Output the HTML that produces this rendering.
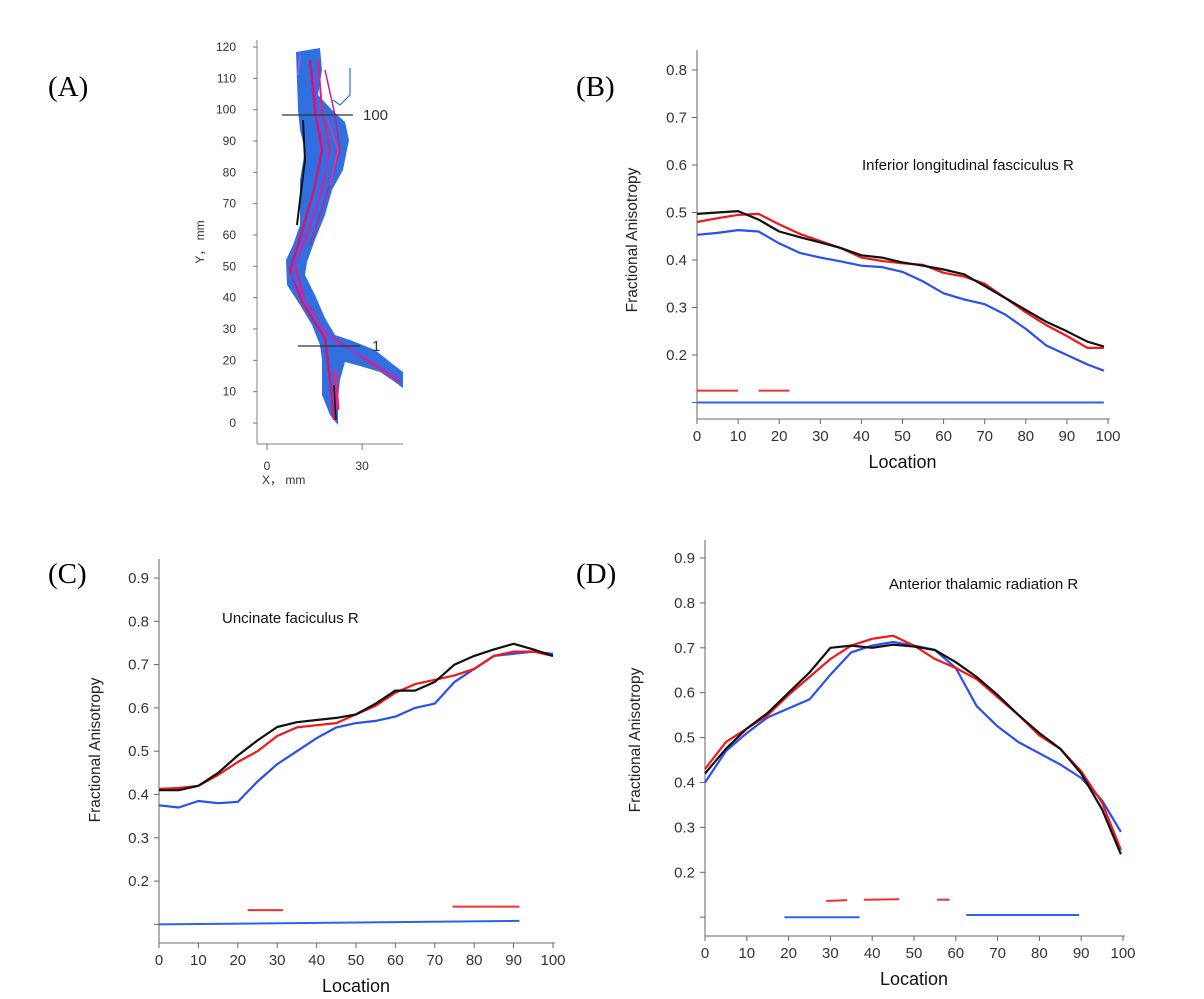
<!DOCTYPE html>
<html><head><meta charset="utf-8">
<style>
html,body{margin:0;padding:0;background:#fff;}
svg{display:block;}
text{font-family:"Liberation Sans",sans-serif;}
.pl{font-family:"Liberation Serif",serif;font-size:29px;fill:#000;}
.tk{font-size:15px;fill:#333;}
.ttl{font-size:15px;fill:#111;}
.axt{font-size:15.5px;fill:#222;}
.loc{font-size:18px;fill:#111;}
</style></head>
<body>
<svg id="fig" width="1204" height="999" viewBox="0 0 1204 999" xmlns="http://www.w3.org/2000/svg">
<text class="pl" x="48" y="96">(A)</text>
<text class="pl" x="576" y="96">(B)</text>
<text class="pl" x="48" y="583">(C)</text>
<text class="pl" x="576" y="583">(D)</text>

<g id="panelA">
  <line x1="257" y1="40" x2="257" y2="444" stroke="#999" stroke-width="1.2"/>
  <line x1="257" y1="444" x2="403" y2="444" stroke="#999" stroke-width="1.2"/>
  <g id="aTicks"></g>
  <text x="262" y="484" class="tk" style="font-size:12px">X，  mm</text>
  <text transform="translate(204,242) rotate(-90)" text-anchor="middle" class="tk" style="font-size:12px">Y，  mm</text>
  <g>
    <path d="M296,52 L320,48 L322,70 L318,95 L332,110 L345,122 L349,140 L343,170 L332,190 L325,215 L315,240 L307,262 L305,275 L315,295 L325,318 L335,335 L350,340 L375,350 L390,362 L403,372 L403,388 L392,380 L380,372 L360,366 L345,362 L340,380 L338,400 L338,425 L330,415 L322,395 L322,360 L320,345 L312,325 L300,305 L287,285 L286,260 L293,245 L300,225 L300,205 L300,180 L305,150 L300,130 L298,110 Z" fill="#2f6fe0"/>
    <path d="M318,60 L322,110 L330,150 L322,190 L305,240 L295,265 L305,300 L328,335 L360,356 L400,382" fill="none" stroke="#e0207a" stroke-width="2"/>
    <path d="M310,60 L315,110 L322,150 L314,190 L298,245 L290,270 L302,302 L325,338 L330,380 L334,420" fill="none" stroke="#d01870" stroke-width="2.5"/>
    <path d="M325,70 L335,115 L340,150 L328,190 L310,245" fill="none" stroke="#c02090" stroke-width="1.5"/>
    <path d="M314,70 L318,120 L328,160 L318,200 L300,250 L292,275 L310,310 L335,342 L370,360 L398,378" fill="none" stroke="#8a40e0" stroke-width="1.5"/>
    <path d="M328,120 L338,150 L330,185" fill="none" stroke="#f0308a" stroke-width="1.5"/>
    <path d="M335,370 L338,410" fill="none" stroke="#f02080" stroke-width="3"/>
    <path d="M303,120 L305,160 L300,200 L297,225" fill="none" stroke="#111" stroke-width="2"/>
    <path d="M334,385 L336,420" fill="none" stroke="#111" stroke-width="1.5"/>
    <path d="M333,100 L340,105 L350,95 L350,68" fill="none" stroke="#2f6fe0" stroke-width="1.2"/>
    <path d="M300,55 L298,75" fill="none" stroke="#9a60e0" stroke-width="1.5"/>
  </g>
  <line x1="282" y1="115" x2="353" y2="115" stroke="#333" stroke-width="1.2"/>
  <text x="363" y="120" class="tk" style="font-size:15px">100</text>
  <line x1="298" y1="346" x2="360" y2="346" stroke="#333" stroke-width="1.2"/>
  <text x="372" y="351" class="tk" style="font-size:15px">1</text>
</g>
<g id="charts"></g>
</svg>
<script>
// Panel A tick labels
const aYTicks = [0,10,20,30,40,50,60,70,80,90,100,110,120];
const aXTicks = [0,30];
// Panel B: Inferior longitudinal fasciculus R
const locB = [0,5,10,15,20,25,30,35,40,45,50,55,60,65,70,75,80,85,90,95,99];
const bBlack = [.497,.50,.503,.485,.46,.448,.437,.425,.41,.405,.395,.388,.38,.37,.345,.32,.295,.27,.25,.228,.218];
const bRed = [.48,.488,.495,.497,.475,.455,.44,.425,.405,.398,.393,.39,.373,.365,.35,.32,.29,.263,.24,.215,.215];
const bBlue = [.453,.457,.463,.46,.435,.415,.405,.397,.388,.385,.375,.355,.33,.317,.307,.285,.255,.22,.2,.18,.167];
const bRedSig = [[0,10,.125,.125],[15,22.5,.125,.125]];
const bBlueSig = [[0,99,.1,.1]];
// Panel C: Uncinate faciculus R
const locC = [0,5,10,15,20,25,30,35,40,45,50,55,60,65,70,75,80,85,90,95,100];
const cBlack = [.41,.41,.42,.45,.49,.525,.556,.567,.572,.577,.585,.61,.64,.64,.66,.70,.72,.735,.748,.735,.72];
const cRed = [.413,.415,.42,.445,.475,.50,.535,.555,.56,.565,.585,.605,.635,.655,.665,.675,.69,.72,.73,.73,.72];
const cBlue = [.375,.37,.385,.38,.383,.43,.47,.5,.53,.555,.565,.57,.58,.6,.61,.66,.69,.72,.725,.73,.725];
const cRedSig = [[22.5,31.5,.133,.133],[74.5,91.5,.141,.141]];
const cBlueSig = [[0,91.5,.1,.108]];
// Panel D: Anterior thalamic radiation R
const locD = [0,5,10,15,20,25,30,35,40,45,50,55,60,65,70,75,80,85,90,95,99.5];
const dBlack = [.42,.475,.52,.555,.60,.645,.70,.705,.70,.707,.703,.695,.668,.635,.595,.55,.51,.475,.42,.34,.24];
const dRed = [.43,.49,.52,.55,.595,.635,.675,.705,.72,.727,.705,.675,.655,.63,.59,.55,.505,.475,.425,.355,.25];
const dBlue = [.40,.47,.51,.545,.565,.585,.64,.69,.705,.713,.705,.695,.655,.57,.525,.49,.465,.44,.41,.36,.29];
const dRedSig = [[29,34,.136,.138],[38,46.5,.139,.14],[55.5,58.5,.139,.139]];
const dBlueSig = [[19,37,.1,.1],[62.5,89.5,.105,.105]];

const NS='http://www.w3.org/2000/svg';
function mk(tag, attrs, parent){const e=document.createElementNS(NS,tag);for(const k in attrs)e.setAttribute(k,attrs[k]);parent.appendChild(e);return e;}

const aT=document.getElementById('aTicks');
aYTicks.forEach(v=>{const y=423-3.133*v;
 const l=mk('line',{x1:253,y1:y,x2:257,y2:y,stroke:'#777'},aT);
 
 
 const t=mk('text',{x:236,y:y+4,'text-anchor':'end',class:'tk'},aT);t.style.fontSize='12px';t.textContent=v;
 
 });
aXTicks.forEach(v=>{const x=267+3.17*v;
 const l=mk('line',{x1:x,y1:444,x2:x,y2:450,stroke:'#777'},aT);
 
 
 const t=mk('text',{x:x,y:470,'text-anchor':'middle',class:'tk'},aT);t.style.fontSize='12px';t.textContent=v;
 
 });

const charts=document.getElementById('charts');
function chart(cfg){
 const g=mk('g',{},charts);
 
 
 const X=v=>cfg.x0+(cfg.x1-cfg.x0)*v/100;
 const Y=v=>cfg.yTop+(cfg.topVal-v)*cfg.per;
 const ya=mk('line',{x1:cfg.x0,y1:cfg.axTop,x2:cfg.x0,y2:cfg.axBot,stroke:'#888','stroke-width':1.3},g);
 
 
 const xa=mk('line',{x1:cfg.x0,y1:cfg.axBot,x2:cfg.x1+2,y2:cfg.axBot,stroke:'#888','stroke-width':1.3},g);
 
 
 cfg.yTicks.forEach(v=>{const y=Y(v);
  const l=mk('line',{x1:cfg.x0-5,y1:y,x2:cfg.x0,y2:y,stroke:'#666'},g);
  
  
  if(v>0.15){const t=mk('text',{x:cfg.x0-10,y:y+5,'text-anchor':'end',class:'tk'},g);t.textContent=v.toFixed(1);
  
  }});
 [0,10,20,30,40,50,60,70,80,90,100].forEach(v=>{const x=X(v);
  const l=mk('line',{x1:x,y1:cfg.axBot,x2:x,y2:cfg.axBot+5,stroke:'#666'},g);
  
  
  const t=mk('text',{x:x,y:cfg.axBot+22,'text-anchor':'middle',class:'tk'},g);t.textContent=v;
  
  });
 const yt=mk('text',{transform:`translate(${cfg.ytX},${cfg.ytY}) rotate(-90)`,'text-anchor':'middle',class:'axt'},g);yt.textContent='Fractional Anisotropy';
 
 
 const xt=mk('text',{x:(cfg.x0+cfg.x1)/2,y:cfg.locY,'text-anchor':'middle',class:'loc'},g);xt.textContent='Location';
 
 
 const tt=mk('text',{x:cfg.tX,y:cfg.tY,class:'ttl'},g);tt.textContent=cfg.title;
 
 
 cfg.sigs.forEach(s=>{s.data.forEach(d=>{
  const l=mk('line',{x1:X(d[0]),y1:Y(d[2]),x2:X(d[1]),y2:Y(d[3]),stroke:s.color,'stroke-width':2},g);
  
  });});
 cfg.series.forEach(s=>{
  const pts=s.vals.map((v,i)=>X(cfg.loc[i]).toFixed(1)+','+Y(v).toFixed(1)).join(' ');
  const p=mk('polyline',{points:pts,fill:'none',stroke:s.color,'stroke-width':2.2,'stroke-linejoin':'round'},g);
  
  });
}
chart({name:'chart-b-ilf',x0:697,x1:1108,yTop:70,topVal:.8,per:475,axTop:50,axBot:419,
 yTicks:[.8,.7,.6,.5,.4,.3,.2,.1],ytX:637,ytY:240,locY:468,tX:862,tY:170,title:'Inferior longitudinal fasciculus R',
 loc:locB,series:[{name:'blue-series',color:'#2a4ff0',vals:bBlue},{name:'red-series',color:'#f01818',vals:bRed},{name:'black-series',color:'#111',vals:bBlack}],
 sigs:[{name:'red-significance-bar',color:'#f03030',data:bRedSig},{name:'blue-significance-bar',color:'#3060f0',data:bBlueSig}]});
chart({name:'chart-c-uncinate',x0:159,x1:553,yTop:578,topVal:.9,per:433,axTop:559,axBot:943,
 yTicks:[.9,.8,.7,.6,.5,.4,.3,.2,.1],ytX:100,ytY:750,locY:992,tX:222,tY:623,title:'Uncinate faciculus R',
 loc:locC,series:[{name:'blue-series',color:'#2a4ff0',vals:cBlue},{name:'red-series',color:'#f01818',vals:cRed},{name:'black-series',color:'#111',vals:cBlack}],
 sigs:[{name:'red-significance-bar',color:'#f03030',data:cRedSig},{name:'blue-significance-bar',color:'#3060f0',data:cBlueSig}]});
chart({name:'chart-d-atr',x0:705,x1:1123,yTop:558,topVal:.9,per:449,axTop:540,axBot:936,
 yTicks:[.9,.8,.7,.6,.5,.4,.3,.2,.1],ytX:640,ytY:740,locY:985,tX:889,tY:589,title:'Anterior thalamic radiation R',
 loc:locD,series:[{name:'blue-series',color:'#2a4ff0',vals:dBlue},{name:'red-series',color:'#f01818',vals:dRed},{name:'black-series',color:'#111',vals:dBlack}],
 sigs:[{name:'red-significance-bar',color:'#f03030',data:dRedSig},{name:'blue-significance-bar',color:'#3060f0',data:dBlueSig}]});
</script>
</body></html>
